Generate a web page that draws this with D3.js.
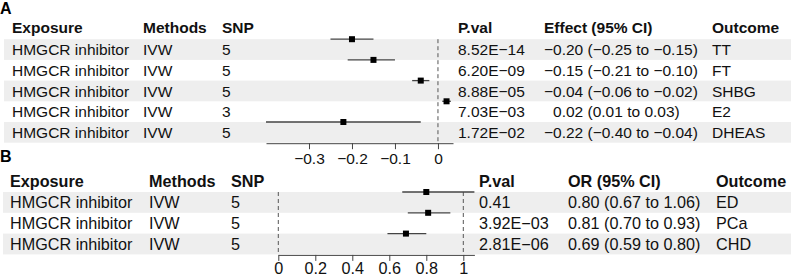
<!DOCTYPE html>
<html lang="en">
<head>
<meta charset="UTF-8">
<title>Forest plots</title>
<script src="https://cdn.jsdelivr.net/npm/d3@7"></script>
<style>
  body { margin: 0; background: #fff; }
  svg { display: block; font-family: "Liberation Sans", Arial, Helvetica, sans-serif; }
</style>
</head>
<body>
<script>
// panel A: continuous outcomes
const headersA  = ["Exposure", "Methods", "SNP", "P.val", "Effect (95% CI)", "Outcome"];
const exposureA = ["HMGCR inhibitor", "HMGCR inhibitor", "HMGCR inhibitor", "HMGCR inhibitor", "HMGCR inhibitor"];
const methodsA  = ["IVW", "IVW", "IVW", "IVW", "IVW"];
const snpA      = [5, 5, 5, 3, 5];
const pvalA     = ["8.52E\u221214", "6.20E\u221209", "8.88E\u221205", "7.03E\u221203", "1.72E\u221202"];
const estA      = [-0.20, -0.15, -0.04, 0.02, -0.22];
const lowA      = [-0.25, -0.21, -0.06, 0.01, -0.40];
const highA     = [-0.15, -0.10, -0.02, 0.03, -0.04];
const outcomeA  = ["TT", "FT", "SHBG", "E2", "DHEAS"];
const ticksA    = [-0.3, -0.2, -0.1, 0];

// panel B: binary outcomes (odds ratios)
const headersB  = ["Exposure", "Methods", "SNP", "P.val", "OR (95% CI)", "Outcome"];
const exposureB = ["HMGCR inhibitor", "HMGCR inhibitor", "HMGCR inhibitor"];
const methodsB  = ["IVW", "IVW", "IVW"];
const snpB      = [5, 5, 5];
const pvalB     = ["0.41", "3.92E\u221203", "2.81E\u221206"];
const estB      = [0.80, 0.81, 0.69];
const lowB      = [0.67, 0.70, 0.59];
const highB     = [1.06, 0.93, 0.80];
const outcomeB  = ["ED", "PCa", "CHD"];
const ticksB    = [0, 0.2, 0.4, 0.6, 0.8, 1];

const width = 800, height = 279;
const svg = d3.select("body").append("svg")
  .attr("width", width).attr("height", height)
  .attr("viewBox", [0, 0, width, height]);

const f2 = d3.format(".2f");
const ciText = (e, l, h) => `${f2(e)} (${f2(l)} to ${f2(h)})`;

function panel(o) {
  const g = svg.append("g");
  const n = o.est.length;
  const rows = d3.range(n);
  const yTop = i => o.top + i * o.rowH;

  // panel letter
  g.append("text").attr("x", 0).attr("y", o.letterY)
    .attr("font-size", 16).attr("font-weight", "bold").text(o.letter);

  // zebra bands
  g.selectAll("rect.band").data(rows.filter(i => i % 2 === 0)).join("rect")
    .attr("class", "band")
    .attr("x", o.bandX).attr("width", 791 - o.bandX)
    .attr("y", i => yTop(i)).attr("height", o.rowH)
    .attr("fill", "#eeeeee");

  // header row
  g.selectAll("text.head").data(o.headers).join("text")
    .attr("class", "head")
    .attr("x", (d, j) => o.cols[j]).attr("y", o.headY)
    .attr("font-size", o.fs).attr("font-weight", "bold").attr("fill", "#111")
    .text(d => d);

  const anyNeg = o.est.some(v => v < 0);
  const cells = [
    i => o.exposure[i], i => o.methods[i], i => o.snp[i], i => o.pval[i],
    i => ciText(o.est[i], o.low[i], o.high[i]), i => o.outcome[i]
  ];
  cells.forEach((cell, j) => {
    g.append("g").selectAll("text").data(rows).join("text")
      .attr("x", o.cols[j]).attr("y", i => yTop(i) + o.rowH / 2 + o.fs * 0.36)
      .attr("dx", i => (j === 4 && anyNeg && o.est[i] >= 0) ? "0.584em" : null)
      .attr("font-size", o.fs).attr("fill", "#111")
      .text(cell);
  });

  // forest plot
  const x = d3.scaleLinear().domain(o.domain).range(o.range);
  const yBottom = o.top + n * o.rowH;

  o.refs.forEach(r => {
    g.append("line")
      .attr("x1", x(r)).attr("x2", x(r))
      .attr("y1", o.top).attr("y2", yBottom)
      .attr("stroke", "#555").attr("stroke-width", 1)
      .attr("stroke-dasharray", "4,3");
  });

  g.append("g").selectAll("line").data(rows).join("line")
    .attr("x1", i => x(o.low[i])).attr("x2", i => x(o.high[i]))
    .attr("y1", i => yTop(i)).attr("y2", i => yTop(i))
    .attr("stroke", "#444").attr("stroke-width", 1.3);

  const s = 6;
  g.append("g").selectAll("rect").data(rows).join("rect")
    .attr("x", i => x(o.est[i]) - s / 2).attr("y", i => yTop(i) - s / 2)
    .attr("width", s).attr("height", s)
    .attr("fill", "#000");

  g.append("g")
    .attr("transform", `translate(0,${yBottom + 0.5})`)
    .call(d3.axisBottom(x).tickValues(o.ticks).tickFormat(d3.format(""))
      .tickSize(6).tickSizeOuter(0).tickPadding(o.pad))
    .call(a => a.select(".domain").attr("stroke", "#444"))
    .call(a => a.selectAll(".tick line").attr("stroke", "#444"))
    .call(a => a.selectAll(".tick text")
      .attr("font-family", null).attr("font-size", o.fs).attr("fill", "#111"));
}

panel({
  letter: "A", letterY: 14, headY: 33, top: 39.2, rowH: 20.7, fs: 15.5, bandX: 4, pad: 4,
  cols: [12, 143, 222, 458, 544, 712],
  headers: headersA, exposure: exposureA, methods: methodsA, snp: snpA, pval: pvalA,
  est: estA, low: lowA, high: highA, outcome: outcomeA, ticks: ticksA,
  domain: [-0.4, 0.035], range: [266, 453], refs: [0]
});

panel({
  letter: "B", letterY: 162, headY: 186.5, top: 192, rowH: 20.8, fs: 16.2, bandX: 3, pad: 2,
  cols: [10, 149, 231, 479, 568, 716],
  headers: headersB, exposure: exposureB, methods: methodsB, snp: snpB, pval: pvalB,
  est: estB, low: lowB, high: highB, outcome: outcomeB, ticks: ticksB,
  domain: [0, 1.06], range: [278.3, 474.4], refs: [0, 1]
});
</script>
</body>
</html>
